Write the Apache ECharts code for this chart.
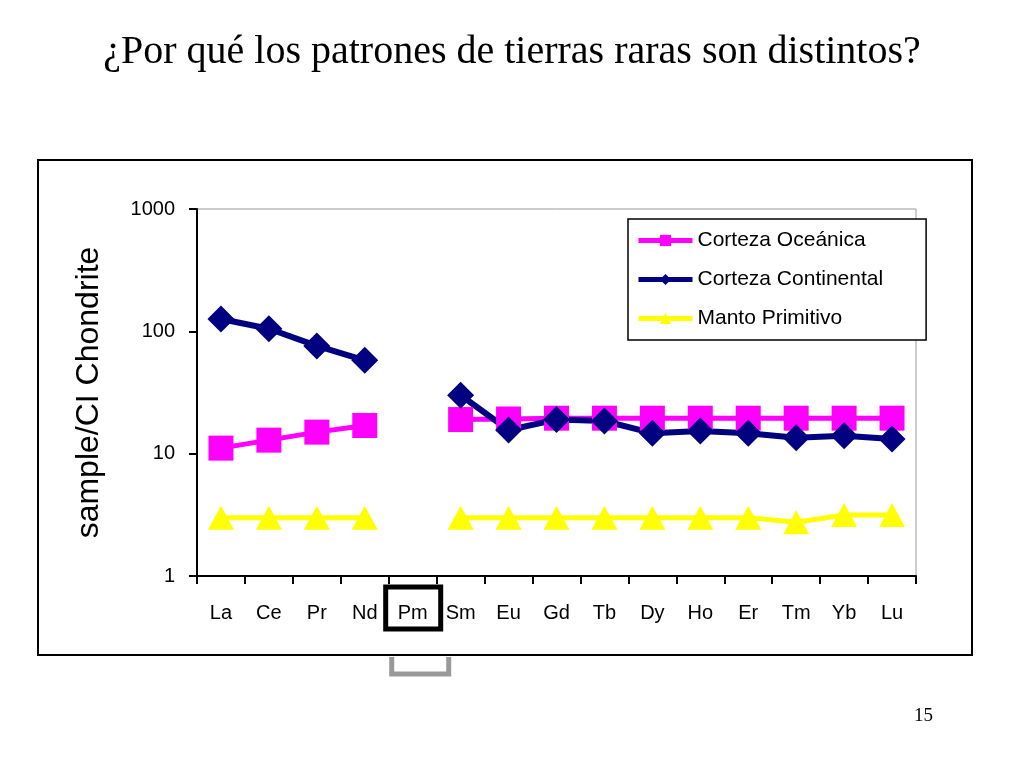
<!DOCTYPE html>
<html>
<head>
<meta charset="utf-8">
<script src="https://cdn.jsdelivr.net/npm/echarts@6/dist/echarts.min.js"></script>
<style>
html,body{margin:0;padding:0;background:#fff;}
#main{width:1024px;height:768px;}
</style>
</head>
<body>
<div id="main"></div>
<script>
var chart = echarts.init(document.getElementById('main'));

/* elementos de tierras raras */
var elementos = ['La','Ce','Pr','Nd','Pm','Sm','Eu','Gd','Tb','Dy','Ho','Er','Tm','Yb','Lu'];
var cortezaOceanica = [11.1, 12.9, 15, 17, null, 19, 19.2, 19.5, 19.5, 19.5, 19.5, 19.5, 19.5, 19.5, 19.5];
var cortezaContinental = [126, 105, 76, 58, null, 30, 15.6, 19, 18.5, 14.7, 15.3, 14.7, 13.5, 14, 13.2];
var mantoPrimitivo = [3, 3, 3, 3, null, 3, 3, 3, 3, 3, 3, 3, 2.75, 3.15, 3.15];
var yTicks = [1, 10, 100, 1000];

var fuente = 'Liberation Sans, Arial, sans-serif';

var option = {
    animation: false,
    title: {
        text: '¿Por qué los patrones de tierras raras son distintos?',
        left: 'center',
        top: 27,
        textStyle: {fontFamily: 'Liberation Serif, Times New Roman, serif', fontSize: 40, fontWeight: 'normal', color: '#000'}
    },
    grid: {
        left: 197, right: 108, top: 209, bottom: 192,
        show: true, borderColor: '#999', borderWidth: 1, backgroundColor: 'transparent'
    },
    legend: {
        orient: 'vertical',
        left: 628, top: 219,
        padding: [11, 43, 11, 8],
        itemWidth: 54, itemHeight: 14,
        itemGap: 18,
        borderColor: '#000', borderWidth: 1.5,
        backgroundColor: '#fff',
        lineStyle: {width: 5},
        textStyle: {fontFamily: fuente, fontSize: 21, color: '#000'},
        data: ['Corteza Oceánica', 'Corteza Continental', 'Manto Primitivo']
    },
    xAxis: {
        type: 'category',
        data: elementos,
        boundaryGap: true,
        axisLine: {lineStyle: {color: '#000', width: 2}},
        axisTick: {show: true, interval: 0, length: 8, lineStyle: {color: '#000', width: 2}},
        axisLabel: {interval: 0, margin: 27, fontFamily: fuente, fontSize: 20, color: '#000'},
        splitLine: {show: false}
    },
    yAxis: {
        type: 'log',
        logBase: 10,
        min: yTicks[0],
        max: yTicks[yTicks.length - 1],
        name: 'sample/CI Chondrite',
        nameLocation: 'middle',
        nameGap: 92,
        nameTextStyle: {fontFamily: fuente, fontSize: 32, color: '#000'},
        axisLine: {show: true, lineStyle: {color: '#000', width: 2}},
        axisTick: {show: true, length: 8, lineStyle: {color: '#000', width: 2}},
        axisLabel: {
            margin: 22, fontFamily: fuente, fontSize: 20, color: '#000',
            formatter: function (v) { return String(Math.round(v)); }
        },
        splitLine: {show: false}
    },
    series: [
        {
            name: 'Corteza Oceánica',
            type: 'line',
            data: cortezaOceanica,
            connectNulls: false,
            symbol: 'rect',
            symbolSize: 25,
            itemStyle: {color: '#FF00FF'},
            lineStyle: {color: '#FF00FF', width: 5}
        },
        {
            name: 'Corteza Continental',
            type: 'line',
            data: cortezaContinental,
            connectNulls: false,
            symbol: 'diamond',
            symbolSize: 27,
            itemStyle: {color: '#000080'},
            lineStyle: {color: '#000080', width: 6}
        },
        {
            name: 'Manto Primitivo',
            type: 'line',
            data: mantoPrimitivo,
            connectNulls: false,
            symbol: 'triangle',
            symbolSize: [26, 24],
            itemStyle: {color: '#FFFF00'},
            lineStyle: {color: '#FFFF00', width: 5}
        }
    ]
};
chart.setOption(option);

/* marco exterior, recuadro de Pm y número de página */
var pmX = chart.convertToPixel({xAxisIndex: 0}, 'Pm');
var ejeY = chart.convertToPixel({yAxisIndex: 0}, 1);
chart.setOption({
    graphic: [
        {type: 'rect', shape: {x: 38, y: 160, width: 934, height: 495},
         style: {fill: 'none', stroke: '#000', lineWidth: 2}, z: -1},
        {type: 'rect', shape: {x: pmX - 27, y: ejeY + 11, width: 55, height: 42},
         style: {fill: 'none', stroke: '#000', lineWidth: 5}},
        {type: 'polyline', shape: {points: [[pmX - 21, 657], [pmX - 21, 674], [pmX + 36, 674], [pmX + 36, 657]]},
         style: {fill: 'none', stroke: '#999', lineWidth: 5}},
        {type: 'text', left: 914, top: 707,
         style: {text: '15', fontFamily: 'Liberation Serif, Times New Roman, serif', fontSize: 19, fill: '#000'}}
    ]
});
</script>
</body>
</html>
